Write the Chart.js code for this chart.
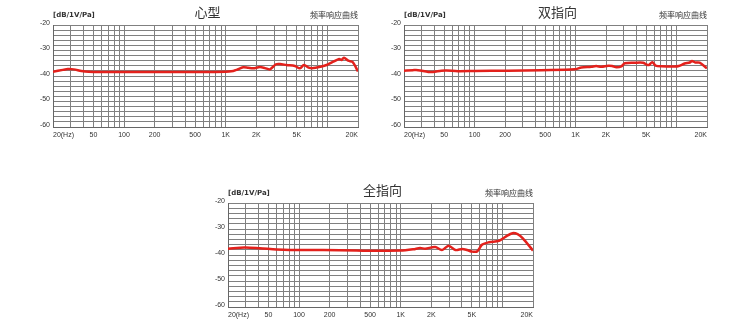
<!DOCTYPE html>
<html>
<head>
<meta charset="utf-8">
<script src="https://cdn.jsdelivr.net/npm/chart.js@4/dist/chart.umd.min.js"></script>
<style>
  body { margin: 0; background: #fff; }
  .box { position: absolute; }
</style>
</head>
<body>
<div class="box" style="left:23px;top:0px;width:350px;height:145px"><canvas id="c1"></canvas></div>
<div class="box" style="left:374px;top:0px;width:345px;height:145px"><canvas id="c2"></canvas></div>
<div class="box" style="left:198px;top:178px;width:347px;height:147px"><canvas id="c3"></canvas></div>
<script>
// grid + labels
const gridFreqs = [20, 30, 40, 50, 60, 70, 80, 90, 100, 200, 300, 400, 500, 600, 700, 800, 900,
  1000, 2000, 3000, 4000, 5000, 6000, 7000, 8000, 9000, 10000, 20000];
const freqLabels = { 20: "20(Hz)", 50: "50", 100: "100", 200: "200", 500: "500",
  1000: "1K", 2000: "2K", 5000: "5K", 20000: "20K" };
const gridDb = [-60, -58, -56, -54, -52, -50, -48, -46, -44, -42, -40, -38, -36, -34, -32, -30,
  -28, -26, -24, -22, -20];
const yLabels = [-20, -30, -40, -50, -60];

// 心型
const freqCardioid = [20, 25, 28, 32, 38, 45, 60, 100, 300, 1000, 1186, 1280, 1486, 1665, 1866, 2170, 2433,
  2725, 3120, 3415, 3970, 4800, 5370, 5880, 6530, 7260, 8440, 9820, 11420, 13070, 13800, 14530,
  16030, 17700, 20000];
const dbCardioid = [-38.3, -37.6, -37.3, -37.4, -38.0, -38.3, -38.4, -38.4, -38.4, -38.3, -38.0, -37.6, -36.6,
  -36.8, -37.0, -36.5, -36.9, -37.4, -35.4, -35.3, -35.7, -36.1, -37.0, -35.7, -36.7, -36.9, -36.4,
  -35.7, -34.4, -33.3, -33.7, -32.8, -34.0, -34.5, -38.2];

// 双指向
const freqFigure8 = [20, 24.6, 27.5, 34.8, 38.7, 47, 52.6, 68.6, 100, 214, 459, 980, 1140, 1430, 1600, 1800,
  2100, 2300, 2540, 2840, 3070, 3860, 4660, 5030, 5310, 5740, 6200, 7100, 9600, 10500, 12000,
  13500, 14200, 15300, 16900, 20000];
const dbFigure8 = [-37.9, -37.7, -37.7, -38.4, -38.4, -37.9, -37.8, -38.1, -38.0, -37.9, -37.7, -37.4, -36.7,
  -36.4, -36.1, -36.4, -36.0, -36.1, -36.6, -36.2, -35.0, -34.8, -34.8, -35.5, -35.7, -34.6, -35.9,
  -36.2, -36.3, -36.1, -35.1, -34.7, -34.1, -34.7, -34.8, -37.0];

// 全指向
const freqOmni = [20, 29.2, 41, 60, 81, 172, 368, 990, 1330, 1550, 1740, 2180, 2540, 2960, 3450, 4020, 4500,
  5040, 5650, 6340, 7380, 9280, 10800, 12560, 14100, 15800, 20000];
const dbOmni = [-37.6, -37.1, -37.4, -37.9, -38.1, -38.1, -38.3, -38.3, -37.8, -37.3, -37.6, -36.9, -38.1,
  -36.4, -38.1, -37.7, -38.1, -38.7, -38.6, -36.0, -35.1, -34.5, -32.9, -31.6, -32.0, -33.5, -38.3];

const headerPlugin = {
  id: "header",
  afterDraw(chart, args, opts) {
    const { ctx, chartArea } = chart;
    ctx.save();
    ctx.fillStyle = "#333";
    ctx.textBaseline = "middle";
    ctx.textAlign = "center";
    ctx.font = "13px 'Noto Sans CJK SC'";
    ctx.fillText(opts.title, (chartArea.left + chartArea.right) / 2 + 2, chartArea.top - 13);
    ctx.textAlign = "left";
    ctx.font = "bold 7px 'DejaVu Sans'";
    ctx.fillText("[dB/1V/Pa]", chartArea.left, chartArea.top - 10);
    ctx.textAlign = "right";
    ctx.font = "8px 'Noto Sans CJK SC'";
    ctx.fillText("频率响应曲线", chartArea.right, chartArea.top - 10);
    ctx.restore();
  }
};

function makeChart(id, title, freqs, dbs, padRight) {
  new Chart(document.getElementById(id), {
    type: "line",
    data: {
      datasets: [{
        data: freqs.map((f, i) => ({ x: f, y: dbs[i] })),
        borderColor: "#e3211c",
        borderWidth: 2.5,
        pointRadius: 0,
        tension: 0.3,
        fill: false
      }]
    },
    plugins: [headerPlugin],
    options: {
      responsive: true,
      maintainAspectRatio: false,
      animation: false,
      layout: { padding: { top: 25, right: padRight, left: 0, bottom: 0 } },
      plugins: {
        legend: { display: false },
        tooltip: { enabled: false },
        header: { title: title }
      },
      scales: {
        x: {
          type: "logarithmic",
          min: 20,
          max: 20000,
          afterBuildTicks: (s) => { s.ticks = gridFreqs.map((v) => ({ value: v })); },
          afterFit: (s) => { s.height = 18; },
          grid: { color: "#808080", lineWidth: 1, drawTicks: false },
          border: { color: "#666", width: 1 },
          ticks: {
            autoSkip: false,
            maxRotation: 0,
            align: "inner",
            padding: 4,
            color: "#333",
            font: { family: "'Liberation Sans'", size: 7 },
            callback: (v) => freqLabels[v] || ""
          }
        },
        y: {
          min: -60,
          max: -20,
          afterBuildTicks: (s) => { s.ticks = gridDb.map((v) => ({ value: v })); },
          afterFit: (s) => { s.width = 30; },
          grid: { color: "#808080", lineWidth: 1, drawTicks: false },
          border: { color: "#666", width: 1 },
          ticks: {
            autoSkip: false,
            padding: 3,
            labelOffset: -2,
            color: "#333",
            font: { family: "'Liberation Sans'", size: 7 },
            callback: (v) => (yLabels.includes(v) ? String(v) : "")
          }
        }
      }
    }
  });
}

makeChart("c1", "心型", freqCardioid, dbCardioid, 15);
makeChart("c2", "双指向", freqFigure8, dbFigure8, 12);
makeChart("c3", "全指向", freqOmni, dbOmni, 12);
</script>
</body>
</html>
